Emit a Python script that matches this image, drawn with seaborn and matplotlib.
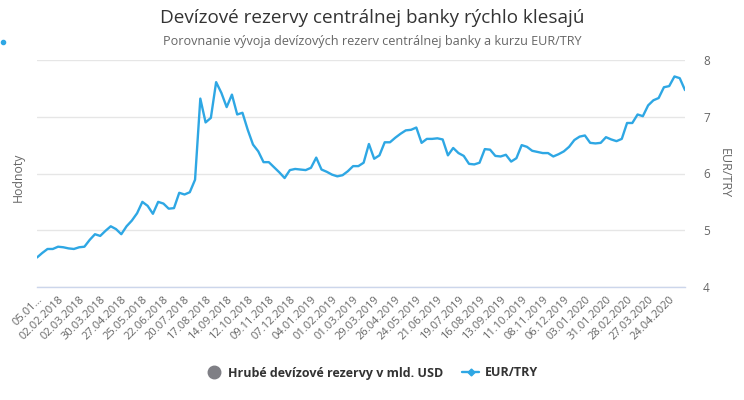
import matplotlib.pyplot as plt
import numpy as np
import pandas as pd
import seaborn as sns
from matplotlib.lines import Line2D

title = "Devízové rezervy centrálnej banky rýchlo klesajú"
subtitle = "Porovnanie vývoja devízových rezerv centrálnej banky a kurzu EUR/TRY"
reserves_label = "Hrubé devízové rezervy v mld. USD"
fx_label = "EUR/TRY"

# weekly closes, fridays from 05.01.2018
week_dates = pd.date_range("2018-01-05", periods=124, freq="7D")
eur_try = [
    4.52, 4.60, 4.67, 4.67, 4.71, 4.70, 4.68, 4.67, 4.70, 4.71,
    4.83, 4.93, 4.90, 4.99, 5.07, 5.02, 4.93, 5.07, 5.17, 5.30,
    5.50, 5.43, 5.29, 5.50, 5.47, 5.38, 5.39, 5.66, 5.63, 5.67,
    5.89, 7.32, 6.90, 6.98, 7.61, 7.42, 7.17, 7.39, 7.04, 7.07,
    6.77, 6.51, 6.39, 6.20, 6.20, 6.11, 6.02, 5.92, 6.06, 6.08,
    6.07, 6.06, 6.10, 6.28, 6.07, 6.03, 5.98, 5.95, 5.97, 6.04,
    6.13, 6.13, 6.19, 6.52, 6.26, 6.32, 6.55, 6.55, 6.63, 6.70,
    6.76, 6.77, 6.81, 6.54, 6.61, 6.61, 6.62, 6.60, 6.32, 6.45,
    6.36, 6.31, 6.17, 6.16, 6.19, 6.43, 6.42, 6.31, 6.30, 6.33,
    6.21, 6.27, 6.50, 6.47, 6.40, 6.38, 6.36, 6.36, 6.30, 6.34,
    6.39, 6.47, 6.59, 6.65, 6.67, 6.54, 6.53, 6.54, 6.64, 6.60,
    6.57, 6.61, 6.89, 6.89, 7.04, 7.01, 7.20, 7.29, 7.33, 7.52,
    7.54, 7.71, 7.68, 7.47,
]
y_ticks = [4, 5, 6, 7, 8]

df = pd.DataFrame({"week": np.arange(len(eur_try)), "date": week_dates, "eur_try": eur_try})

blue = "#2ea7e4"
grey_txt = "#666666"
dark_txt = "#333333"

sns.set_theme(style="white")
plt.rcParams["font.family"] = ["Open Sans", "DejaVu Sans"]

fig = plt.figure(figsize=(7.44, 4), dpi=100)
W, H = 744, 400
ax = fig.add_axes([37 / W, 1 - 287 / H, (685 - 37) / W, (287 - 60) / H])

sns.lineplot(data=df, x="week", y="eur_try", ax=ax, color=blue, linewidth=1.7)

ax.set_xlim(0, len(eur_try) - 1)
ax.set_ylim(4, 8)
ax.set_yticks(y_ticks)
ax.yaxis.tick_right()
ax.yaxis.set_label_position("right")
ax.set_ylabel(fx_label, rotation=270, color=grey_txt, fontsize=9, labelpad=15)
ax.set_xlabel("")

tick_pos = df["week"][::4]
tick_lbl = list(df["date"][::4].dt.strftime("%d.%m.%Y"))
tick_lbl[0] = "05.01…"
ax.set_xticks(tick_pos)
ax.set_xticklabels(tick_lbl, rotation=45, ha="right", va="top", rotation_mode="anchor")

ax.tick_params(axis="x", length=0, pad=5, labelsize=8, labelcolor=grey_txt)
ax.tick_params(axis="y", length=0, pad=13, labelsize=8.5, labelcolor=grey_txt)

ax.grid(axis="y", color="#e6e6e6", linewidth=1)
ax.grid(axis="x", visible=False)
for s in ["top", "left", "right"]:
    ax.spines[s].set_visible(False)
ax.spines["bottom"].set_color("#ccd6eb")
ax.spines["bottom"].set_linewidth(1)

fig.text(0.5, 1 - 18 / H, title, ha="center", va="center", fontsize=13.6, color=dark_txt)
fig.text(0.5, 1 - 42 / H, subtitle, ha="center", va="center", fontsize=9.1, color=grey_txt)
fig.text(18 / W, 1 - 177 / H, "Hodnoty", rotation=90, ha="center", va="center",
         fontsize=8.8, color=grey_txt)

# stray marker dot at top left of the reference
fig.add_artist(Line2D([3 / W], [1 - 42 / H], marker="o", markersize=3, color=blue,
                      linestyle="none", transform=fig.transFigure))

handles = [
    Line2D([], [], marker="o", markersize=9, color="#7f7f85", linestyle="none"),
    Line2D([], [], marker="D", markersize=3.5, color=blue, linewidth=1.7),
]
fig.legend(handles, [reserves_label, fx_label], loc="center", bbox_to_anchor=(0.5, 1 - 373 / H),
           ncol=2, frameon=False, handlelength=1.3, handletextpad=0.5, columnspacing=1.5,
           prop={"weight": "bold", "size": 9}, labelcolor=dark_txt)

fig.savefig("out.png", dpi=100)
